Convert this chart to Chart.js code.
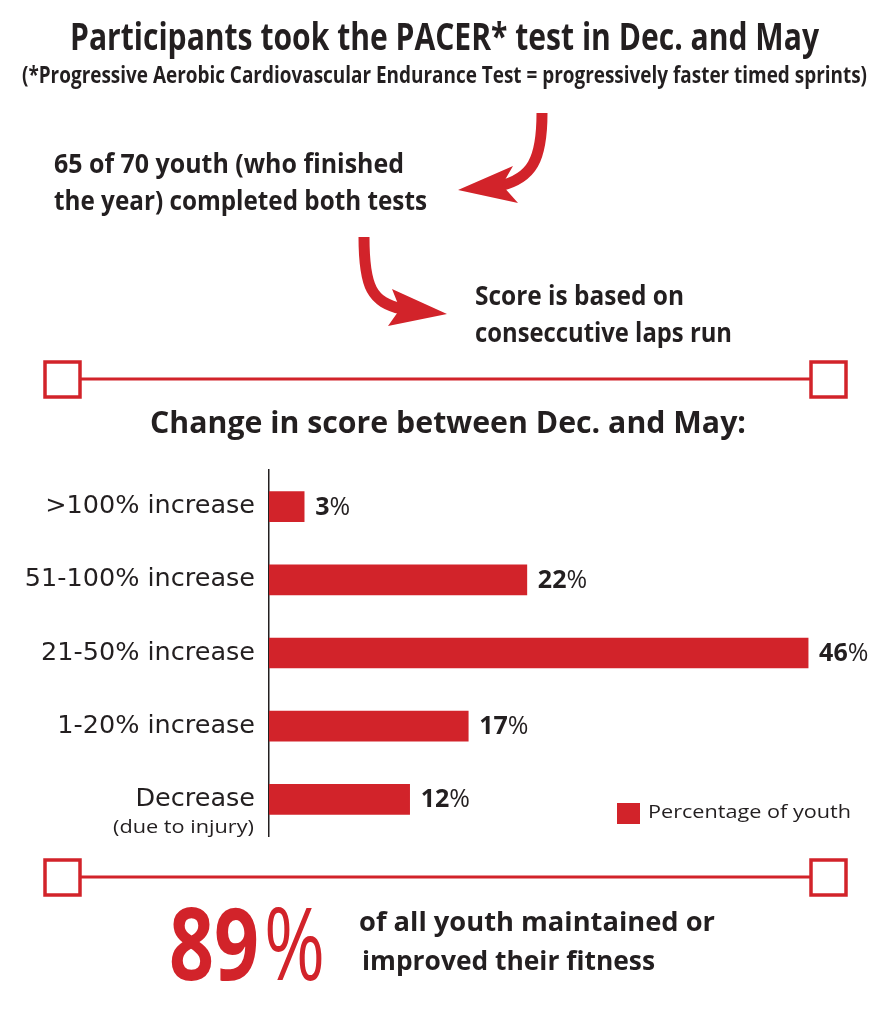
<!DOCTYPE html>
<html>
<head>
<meta charset="utf-8">
<script src="https://cdn.jsdelivr.net/npm/chart.js@4.4.1/dist/chart.umd.min.js"></script>
<style>
  html, body { margin: 0; padding: 0; background: #fff; }
  #myChart { display: block; }
</style>
</head>
<body>
<canvas id="myChart" width="886" height="1024"></canvas>
<script>
// data
const categories = ['>100% increase', '51-100% increase', '21-50% increase', '1-20% increase', 'Decrease'];
const subLabels = ['', '', '', '', '(due to injury)'];
const percentages = [3, 22, 46, 17, 12];
const seriesLabel = 'Percentage of youth';
const headline = '89';

const RED = '#d2232a';
const INK = '#231f20';
const BOLD = "bold {s}px 'Open Sans', 'DejaVu Sans', sans-serif";
const REG = "{s}px 'Open Sans', 'DejaVu Sans', sans-serif";
const f = (tpl, s) => tpl.replace('{s}', s);

// draw text squeezed/stretched to a given width
function fitText(ctx, str, x, y, font, w, align) {
  ctx.font = font;
  const m = ctx.measureText(str).width;
  const sx = w / m;
  ctx.save();
  ctx.translate(x, y);
  ctx.scale(sx, 1);
  ctx.textAlign = 'left';
  ctx.textBaseline = 'alphabetic';
  let ox = 0;
  if (align === 'center') ox = -m / 2;
  if (align === 'right') ox = -m;
  ctx.fillText(str, ox, 0);
  ctx.restore();
}

function divider(ctx, y) {
  ctx.save();
  ctx.strokeStyle = RED;
  ctx.lineWidth = 3;
  ctx.beginPath();
  ctx.moveTo(80, y);
  ctx.lineTo(811, y);
  ctx.stroke();
  ctx.lineWidth = 3.5;
  ctx.strokeRect(45, y - 17, 35, 35);
  ctx.strokeRect(811, y - 17, 35, 35);
  ctx.restore();
}

function arrow(ctx, stem, head) {
  ctx.save();
  ctx.strokeStyle = RED;
  ctx.fillStyle = RED;
  ctx.lineWidth = 11;
  ctx.lineCap = 'butt';
  ctx.beginPath();
  ctx.moveTo(stem[0], stem[1]);
  ctx.bezierCurveTo(stem[2], stem[3], stem[4], stem[5], stem[6], stem[7]);
  ctx.stroke();
  ctx.beginPath();
  ctx.moveTo(head[0], head[1]);
  for (let i = 2; i < head.length; i += 2) ctx.lineTo(head[i], head[i + 1]);
  ctx.closePath();
  ctx.fill();
  ctx.restore();
}

// decorations block
const infographic = {
  id: 'infographic',
  beforeDraw(chart) {
    const { ctx } = chart;
    ctx.save();
    ctx.fillStyle = '#fff';
    ctx.fillRect(0, 0, chart.width, chart.height);
    ctx.restore();
  },
  afterDraw(chart) {
    const { ctx } = chart;
    ctx.save();
    ctx.fillStyle = INK;

    // header texts
    fitText(ctx, 'Participants took the PACER* test in Dec. and May', 70, 50, f(BOLD, 38), 749);
    fitText(ctx, '(*Progressive Aerobic Cardiovascular Endurance Test = progressively faster timed sprints)', 22, 83, f(BOLD, 24), 845);
    fitText(ctx, '65 of 70 youth (who finished', 54, 173, f(BOLD, 26), 350);
    fitText(ctx, 'the year) completed both tests', 54, 210, f(BOLD, 26), 373);
    fitText(ctx, 'Score is based on', 475, 305, f(BOLD, 26), 209);
    fitText(ctx, 'conseccutive laps run', 475, 342, f(BOLD, 26), 257);

    arrow(ctx, [542, 113, 542, 160, 532, 178, 500, 186],
      [458, 190, 513, 166, 502, 185, 518, 203]);
    arrow(ctx, [364, 237, 364, 288, 372, 302, 402, 309],
      [447, 314, 392, 289, 400, 309, 388, 326]);

    divider(ctx, 379);
    fitText(ctx, 'Change in score between Dec. and May:', 150, 433, f(BOLD, 30), 596);

    // value labels
    const meta = chart.getDatasetMeta(0);
    meta.data.forEach((bar, i) => {
      const num = String(percentages[i]);
      let x = bar.x + 11;
      const y = bar.y + 8;
      ctx.textAlign = 'left';
      ctx.font = f(BOLD, 25);
      ctx.fillText(num, x, y);
      x += ctx.measureText(num).width;
      ctx.font = f(REG, 25);
      ctx.fillText('%', x, y);
      if (subLabels[i]) {
        fitText(ctx, subLabels[i], 254, bar.y + 34, f(REG, 18), 141, 'right');
      }
    });

    // legend
    ctx.fillStyle = RED;
    ctx.fillRect(617, 803, 23, 21);
    ctx.fillStyle = INK;
    fitText(ctx, seriesLabel, 648, 818, f(REG, 19), 203);

    divider(ctx, 877);

    // footer
    ctx.fillStyle = RED;
    fitText(ctx, headline, 169, 980, f(BOLD, 100), 90);
    fitText(ctx, '%', 264, 980, f(REG, 100), 61);
    ctx.fillStyle = INK;
    fitText(ctx, 'of all youth maintained or', 359, 931, f(BOLD, 27), 356);
    fitText(ctx, 'improved their fitness', 362, 970, f(BOLD, 27), 293);

    ctx.restore();
  }
};

// config
const config = {
  type: 'bar',
  data: {
    labels: categories,
    datasets: [{
      label: seriesLabel,
      data: percentages,
      backgroundColor: RED,
      borderWidth: 0,
      barThickness: 30
    }]
  },
  options: {
    indexAxis: 'y',
    responsive: false,
    animation: false,
    layout: { padding: { top: 470, bottom: 188, left: 0, right: 31 } },
    plugins: {
      legend: { display: false },
      tooltip: { enabled: false }
    },
    scales: {
      x: { min: 0, max: 50, display: false },
      y: {
        grid: { display: false, drawTicks: false },
        border: { display: true, color: INK, width: 1.5 },
        ticks: {
          color: INK,
          padding: 14,
          font: { family: 'DejaVu Sans', size: 25.5 }
        },
        afterFit(scale) { scale.width = 269; }
      }
    }
  },
  plugins: [infographic]
};

// render init block
const myChart = new Chart(document.getElementById('myChart'), config);
</script>
</body>
</html>
